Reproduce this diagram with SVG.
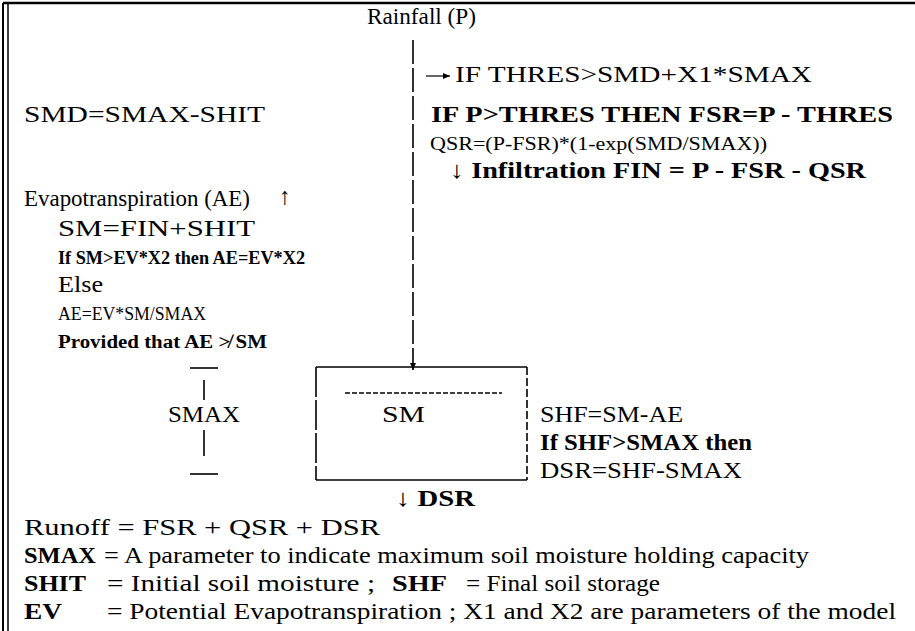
<svg xmlns="http://www.w3.org/2000/svg" width="915" height="631" viewBox="0 0 915 631">
<style>
text{font-family:"Liberation Serif","Times New Roman",serif;fill:#000}
.l{font-size:24px}
.s{font-size:18px}
.b{font-weight:bold}
.ln{stroke:#000;stroke-width:1.6;fill:none}
.d{stroke-dasharray:24 4}
</style>
<defs>
<marker id="ah" markerWidth="8" markerHeight="8" refX="7" refY="4" orient="auto" markerUnits="userSpaceOnUse">
<path d="M0,1 L7,4 L0,7 Z" fill="#000"/>
</marker>
</defs>
<rect width="915" height="631" fill="#fff"/>
<g id="frame">
<line class="ln" x1="3" y1="3" x2="915" y2="3" style="stroke-width:2.5"/>
<line class="ln" x1="3" y1="3" x2="3" y2="631" style="stroke-width:2"/>
<line class="ln" x1="8" y1="3" x2="8" y2="631" style="stroke-width:1.5"/>
</g>
<g id="connectors">
<line class="ln d" x1="413" y1="40" x2="413" y2="370" marker-end="url(#ah)"/>
<line class="ln" x1="426" y1="76" x2="450" y2="76" marker-end="url(#ah)" style="stroke-width:1.2"/>
<line class="ln" x1="190" y1="368" x2="218" y2="368"/>
<line class="ln" x1="204" y1="380" x2="204" y2="400"/>
<line class="ln" x1="204" y1="430" x2="204" y2="456"/>
<line class="ln" x1="190" y1="474" x2="218" y2="474"/>
</g>
<g id="rainfall"><text class="l" x="367" y="24" textLength="109" lengthAdjust="spacingAndGlyphs">Rainfall (P)</text></g>
<g id="threshold">
<text class="l" x="455" y="82" textLength="357" lengthAdjust="spacingAndGlyphs">IF THRES&gt;SMD+X1*SMAX</text>
<text class="l b" x="431" y="122" textLength="462" lengthAdjust="spacingAndGlyphs">IF P&gt;THRES THEN FSR=P - THRES</text>
<text class="s" x="430" y="150" textLength="337" lengthAdjust="spacingAndGlyphs">QSR=(P-FSR)*(1-exp(SMD/SMAX))</text>
<text class="l b" x="450" y="178" textLength="416" lengthAdjust="spacingAndGlyphs">↓ Infiltration FIN = P - FSR - QSR</text>
</g>
<g id="smd"><text class="l" x="24" y="122" textLength="241" lengthAdjust="spacingAndGlyphs">SMD=SMAX-SHIT</text></g>
<g id="evapo">
<text class="l" x="24" y="206" textLength="226" lengthAdjust="spacingAndGlyphs">Evapotranspiration (AE)</text>
<text class="l" x="279" y="204">↑</text>
<text class="l" x="58" y="236" textLength="197" lengthAdjust="spacingAndGlyphs">SM=FIN+SHIT</text>
<text class="s b" x="58" y="264" textLength="247" lengthAdjust="spacingAndGlyphs">If SM&gt;EV*X2 then  AE=EV*X2</text>
<text class="l" x="58" y="292" textLength="45" lengthAdjust="spacingAndGlyphs">Else</text>
<text class="s" x="58" y="320" textLength="148" lengthAdjust="spacingAndGlyphs">AE=EV*SM/SMAX</text>
<text class="s b" x="58" y="348" textLength="209" lengthAdjust="spacingAndGlyphs">Provided that AE ≯ SM</text>
</g>
<g id="smax"><text class="l" x="168" y="422" textLength="72" lengthAdjust="spacingAndGlyphs">SMAX</text></g>
<g id="sm-box">
<line class="ln" x1="316" y1="367" x2="527" y2="367"/>
<line class="ln" x1="316" y1="367" x2="316" y2="480" style="stroke-dasharray:30 3"/>
<line class="ln" x1="316" y1="480" x2="527" y2="480"/>
<line class="ln" x1="527" y1="367" x2="527" y2="480" style="stroke-dasharray:8 3"/>
<line class="ln" x1="345" y1="393" x2="502" y2="393" style="stroke-dasharray:5 2"/>
<text class="l" x="382" y="422" textLength="43" lengthAdjust="spacingAndGlyphs">SM</text>
</g>
<g id="shf">
<text class="l" x="540" y="422" textLength="143" lengthAdjust="spacingAndGlyphs">SHF=SM-AE</text>
<text class="l b" x="540" y="450" textLength="212" lengthAdjust="spacingAndGlyphs">If SHF&gt;SMAX then</text>
<text class="l" x="540" y="478" textLength="202" lengthAdjust="spacingAndGlyphs">DSR=SHF-SMAX</text>
</g>
<g id="dsr"><text class="l b" x="396" y="506" textLength="79" lengthAdjust="spacingAndGlyphs">↓ DSR</text></g>
<g id="legend">
<text class="l" x="24" y="535" textLength="356" lengthAdjust="spacingAndGlyphs">Runoff =  FSR + QSR + DSR</text>
<text class="l b" x="24" y="563" textLength="72" lengthAdjust="spacingAndGlyphs">SMAX</text>
<text class="l" x="104" y="563" textLength="705" lengthAdjust="spacingAndGlyphs">= A parameter to indicate maximum soil moisture holding capacity</text>
<text class="l b" x="24" y="591" textLength="62" lengthAdjust="spacingAndGlyphs">SHIT</text>
<text class="l" x="107" y="591" textLength="268" lengthAdjust="spacingAndGlyphs">= Initial soil moisture ;</text>
<text class="l b" x="392" y="591" textLength="55" lengthAdjust="spacingAndGlyphs">SHF</text>
<text class="l" x="466" y="591" textLength="194" lengthAdjust="spacingAndGlyphs">= Final soil storage</text>
<text class="l b" x="24" y="619" textLength="38" lengthAdjust="spacingAndGlyphs">EV</text>
<text class="l" x="107" y="619" textLength="789" lengthAdjust="spacingAndGlyphs">= Potential Evapotranspiration ; X1 and X2 are parameters of the model</text>
</g>
</svg>
